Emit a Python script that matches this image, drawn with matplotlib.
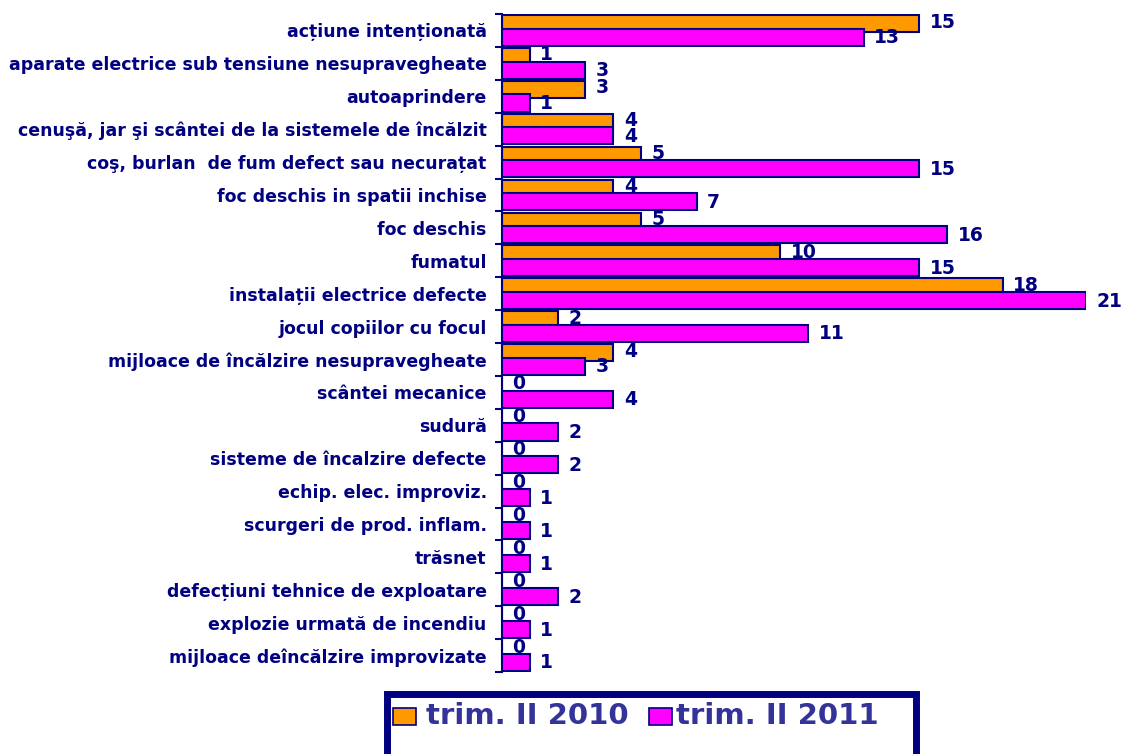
import matplotlib
matplotlib.use("Agg")
import matplotlib.pyplot as plt
from matplotlib.patches import Rectangle

categories = [
    "acțiune intenționată",
    "aparate electrice sub tensiune nesupravegheate",
    "autoaprindere",
    "cenuşă, jar şi scântei de la sistemele de încălzit",
    "coş, burlan  de fum defect sau necurațat",
    "foc deschis in spatii inchise",
    "foc deschis",
    "fumatul",
    "instalații electrice defecte",
    "jocul copiilor cu focul",
    "mijloace de încălzire nesupravegheate",
    "scântei mecanice",
    "sudură",
    "sisteme de încalzire defecte",
    "echip. elec. improviz.",
    "scurgeri de prod. inflam.",
    "trăsnet",
    "defecțiuni tehnice de exploatare",
    "explozie urmată de incendiu",
    "mijloace deîncălzire improvizate",
]
values_2010 = [15, 1, 3, 4, 5, 4, 5, 10, 18, 2, 4, 0, 0, 0, 0, 0, 0, 0, 0, 0]
values_2011 = [13, 3, 1, 4, 15, 7, 16, 15, 21, 11, 3, 4, 2, 2, 1, 1, 1, 2, 1, 1]
series_names = ["trim. II 2010", "trim. II 2011"]
colors = ["#FF9900", "#FF00FF"]

NAVY = "#000080"
W, H = 1124, 754
fig = plt.figure(figsize=(W / 100, H / 100), dpi=100)
ax = fig.add_axes([502 / W, 1 - 672 / H, 584 / W, 658 / H])

n = len(categories)
centers = [i + 0.5 for i in range(n)]
bh = 0.52
off = 0.205
y1 = [c - off for c in centers]
y2 = [c + off for c in centers]
ax.barh(y1, values_2010, height=bh, color=colors[0], edgecolor=NAVY, linewidth=1.5, zorder=2)
ax.barh(y2, values_2011, height=bh, color=colors[1], edgecolor=NAVY, linewidth=1.5, zorder=3)

for y, v in zip(y1, values_2010):
    ax.text(v + 0.38, y - 0.05, str(v), ha="left", va="center", fontsize=13.5,
            fontweight="bold", color=NAVY, family="DejaVu Sans", clip_on=False, zorder=4)
for y, v in zip(y2, values_2011):
    ax.text(v + 0.38, y + 0.02, str(v), ha="left", va="center", fontsize=13.5,
            fontweight="bold", color=NAVY, family="DejaVu Sans", clip_on=False, zorder=4)

ax.set_xlim(0, 21)
ax.set_ylim(n, 0)
ax.set_yticks(range(n + 1))
ax.set_yticklabels([])
ax.set_yticks(centers, minor=True)
ax.set_yticklabels(categories, minor=True, fontsize=12.5, fontweight="bold",
                   color=NAVY, family="DejaVu Sans")
ax.tick_params(axis="y", which="major", length=5, width=1.5, color=NAVY)
ax.tick_params(axis="y", which="minor", length=0, pad=11)
ax.set_xticks([])
for s in ["top", "right", "bottom"]:
    ax.spines[s].set_visible(False)
ax.spines["left"].set_color(NAVY)
ax.spines["left"].set_linewidth(1.5)
ax.patch.set_alpha(0)

# legend box (extends beyond bottom of figure)
fig.patches.append(Rectangle((386.5 / W, -0.1), (915.5 - 386.5) / W, (1 - 693.5 / H) + 0.1,
                             transform=fig.transFigure, fill=False, edgecolor=NAVY,
                             linewidth=5, zorder=1))
leg_sq = [393, 649]
leg_tx = [426, 676]
for xs, xt, name, c in zip(leg_sq, leg_tx, series_names, colors):
    fig.patches.append(Rectangle((xs / W, 1 - 725 / H), 23 / W, 17 / H,
                                 transform=fig.transFigure, facecolor=c,
                                 edgecolor=NAVY, linewidth=1.2))
    fig.text(xt / W, 1 - 716 / H, name, ha="left", va="center", fontsize=21,
             fontweight="bold", color="#333399", family="DejaVu Sans")

fig.savefig("out.png", dpi=100)
